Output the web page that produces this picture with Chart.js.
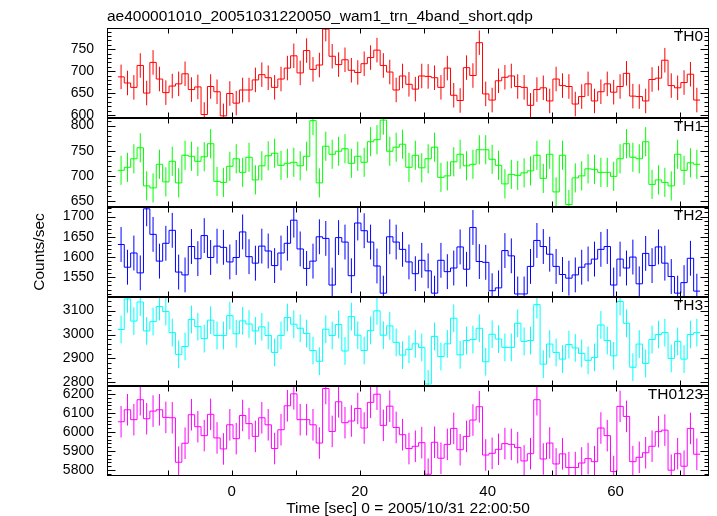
<!DOCTYPE html>
<html>
<head>
<meta charset="utf-8">
<script src="https://cdn.jsdelivr.net/npm/chart.js@4/dist/chart.umd.min.js"></script>
<style>
  html, body { margin: 0; padding: 0; background: #fff; }
  #wrap { width: 717px; height: 516px; }
</style>
</head>
<body>
<div id="wrap"><canvas id="lc"></canvas></div>
<script>
// bin centres [sec], 1 s bins
const times = [
  -17.3,-16.3,-15.3,-14.3,-13.3,-12.3,-11.3,-10.3,-9.3,-8.3,
  -7.3,-6.3,-5.3,-4.3,-3.3,-2.3,-1.3,-0.3,0.7,1.7,
  2.7,3.7,4.7,5.7,6.7,7.7,8.7,9.7,10.7,11.7,
  12.7,13.7,14.7,15.7,16.7,17.7,18.7,19.7,20.7,21.7,
  22.7,23.7,24.7,25.7,26.7,27.7,28.7,29.7,30.7,31.7,
  32.7,33.7,34.7,35.7,36.7,37.7,38.7,39.7,40.7,41.7,
  42.7,43.7,44.7,45.7,46.7,47.7,48.7,49.7,50.7,51.7,
  52.7,53.7,54.7,55.7,56.7,57.7,58.7,59.7,60.7,61.7,
  62.7,63.7,64.7,65.7,66.7,67.7,68.7,69.7,70.7,71.7,72.7
];
const binWidth = 1;

const th0 = [
  687,673,663,713,650,720,682,651,666,671,
  694,658,664,601,665,653,598,649,627,657,
  657,680,692,685,663,682,707,735,696,747,
  704,714,796,734,715,726,702,697,717,731,
  748,713,698,657,689,670,659,689,688,685,
  663,707,645,633,708,690,765,648,634,678,
  686,689,665,663,622,658,662,632,682,667,
  665,625,642,671,632,653,671,652,665,695,
  643,642,632,681,684,725,667,662,674,693,634
];
const th1 = [
  711,717,734,756,680,676,723,688,729,686,
  741,739,729,738,764,689,687,719,734,707,
  737,692,720,740,745,721,725,727,720,739,
  810,686,759,743,749,754,725,739,727,768,
  772,811,749,757,763,717,741,716,734,757,
  697,700,728,743,720,723,752,752,733,721,
  684,703,701,706,710,741,695,743,668,741,
  643,696,700,714,713,707,707,699,734,764,
  737,734,768,683,692,687,680,743,711,726,723
];
const th2 = [
  1631,1575,1610,1561,1719,1656,1590,1634,1666,1563,
  1556,1626,1596,1653,1599,1627,1624,1588,1599,1662,
  1601,1585,1627,1615,1579,1610,1634,1691,1620,1572,
  1590,1650,1646,1531,1648,1637,1554,1684,1665,1637,
  1578,1511,1650,1637,1619,1588,1559,1592,1566,1511,
  1592,1564,1573,1625,1570,1673,1589,1587,1517,1524,
  1616,1603,1509,1509,1577,1641,1626,1607,1577,1557,
  1548,1556,1575,1583,1595,1619,1626,1531,1595,1573,
  1600,1534,1609,1579,1625,1585,1552,1511,1537,1597,1516
];
const th3 = [
  3021,3149,3056,3136,3015,3054,3117,3096,3008,2917,
  2950,3063,3033,2983,3060,2996,2996,3079,3003,3057,
  3044,3015,3032,2996,2925,2996,3071,3043,3026,3004,
  2933,2888,3022,2996,3042,2931,3075,2997,2933,3017,
  3099,2997,3036,2967,2914,2938,2961,2946,2793,2992,
  2908,2961,3068,2915,2975,2979,3026,2886,3001,2981,
  2946,2946,3047,2971,2975,3125,2876,2960,2925,2897,
  2958,2944,2921,2892,2904,3040,2975,2911,3138,3047,
  2863,2960,2879,2979,3000,3008,2900,2971,2897,3000,3008
];
const th0123 = [
  6054,6117,6065,6170,6070,6110,6117,6077,6075,5841,
  5941,6091,6028,5981,6093,5969,5911,6038,5965,6087,
  6044,5977,6075,6038,5913,6012,6138,6201,6065,6065,
  6038,5942,6229,6003,6159,6049,6058,6124,6021,6156,
  6199,6035,6136,6024,5986,5913,5925,5944,5778,5946,
  5862,5935,6019,5907,5977,6063,6133,5879,5888,5909,
  5939,5935,5918,5848,5886,6170,5858,5942,5832,5885,
  5813,5813,5837,5860,5844,6021,5981,5792,6135,6082,
  5844,5867,5891,5925,6002,6010,5799,5886,5820,6019,5883
];

// typical 1-sigma error per panel
const errTH0 = 28, errTH1 = 29, errTH2 = 43, errTH3 = 58, errTH0123 = 83;

const panels = [
  { id: 'p1', label: 'TH0',    values: th0,    err: errTH0,    color: '#ff0000', min: 594,    max: 798.5,  step: 50,  minor: 10 },
  { id: 'p2', label: 'TH1',    values: th1,    err: errTH1,    color: '#00ff00', min: 637.6,  max: 816,    step: 50,  minor: 10 },
  { id: 'p3', label: 'TH2',    values: th2,    err: errTH2,    color: '#0000ff', min: 1502,   max: 1723,   step: 50,  minor: 10 },
  { id: 'p4', label: 'TH3',    values: th3,    err: errTH3,    color: '#00ffff', min: 2783,   max: 3157.7, step: 100, minor: 20 },
  { id: 'p5', label: 'TH0123', values: th0123, err: errTH0123, color: '#ff00ff', min: 5768.6, max: 6240,   step: 100, minor: 20 }
];

const xMin = -19.5, xMax = 74.6, xTickStep = 20, xMarkStep = 10;
const FONT = "'Liberation Sans', Arial, Helvetica, sans-serif";

function stepData(vals) {
  const pts = vals.map((v, i) => ({ x: times[i] - binWidth / 2, y: v }));
  pts.push({ x: times[times.length - 1] + binWidth / 2, y: vals[vals.length - 1] });
  return pts;
}
function errData(vals, e) {
  const pts = [];
  vals.forEach((v, i) => {
    pts.push({ x: times[i], y: v - e }, { x: times[i], y: v + e }, { x: times[i], y: null });
  });
  return pts;
}

const datasets = [];
panels.forEach(p => {
  datasets.push({
    data: stepData(p.values), yAxisID: p.id, stepped: true,
    borderColor: p.color, borderWidth: 1, pointRadius: 0, fill: false
  });
  datasets.push({
    data: errData(p.values, p.err), yAxisID: p.id, spanGaps: false,
    borderColor: p.color, borderWidth: 1, pointRadius: 0, fill: false
  });
});

const plain = v => String(v);

const scales = {
  x: {
    type: 'linear', position: 'bottom', min: xMin, max: xMax,
    grid: { display: false, drawTicks: false }, border: { display: false },
    ticks: { stepSize: xTickStep, includeBounds: false, autoSkip: false, callback: plain, color: '#000', font: { family: FONT, size: 15 }, padding: 7, maxRotation: 0 },
    title: { display: true, text: 'Time [sec] 0 = 2005/10/31 22:00:50', color: '#000', font: { family: FONT, size: 15.5, lineHeight: 1 }, padding: { top: 0, bottom: 0 } },
    afterFit: s => { s.height = 40; }
  }
};
// stacked axes: the last defined one sits on top
panels.slice().reverse().forEach(p => {
  scales[p.id] = {
    type: 'linear', position: 'left', stack: 'panels', stackWeight: 1,
    min: p.min, max: p.max,
    grid: { display: false, drawTicks: false }, border: { display: false },
    ticks: { stepSize: p.step, includeBounds: false, autoSkip: false, callback: plain, color: '#000', font: { family: FONT, size: 14 }, padding: 13 },
    title: { display: p.id === 'p3', text: 'Counts/sec', color: '#000', font: { family: FONT, size: 15.5 }, padding: { top: 30, bottom: 0 } },
    afterFit: s => { s.width = 107; }
  };
});

const panelFrame = {
  id: 'panelFrame',
  beforeDatasetDraw(chart, args) {
    const ys = chart.scales[args.meta.yAxisID];
    const a = chart.chartArea;
    chart.ctx.save();
    chart.ctx.beginPath();
    chart.ctx.rect(a.left, ys.top, a.right - a.left, ys.bottom - ys.top);
    chart.ctx.clip();
  },
  afterDatasetDraw(chart) {
    chart.ctx.restore();
  },
  afterDraw(chart) {
    const ctx = chart.ctx, a = chart.chartArea, xs = chart.scales.x;
    ctx.save();
    ctx.strokeStyle = '#000';
    ctx.lineWidth = 1;
    const L = Math.round(a.left) + 0.5, R = Math.round(a.right) - 0.5;
    panels.forEach(p => {
      const ys = chart.scales[p.id];
      const T = Math.round(ys.top) + 0.5, B = Math.round(ys.bottom) - 0.5;
      ctx.strokeRect(L, T, R - L, B - T);
      ctx.beginPath();
      // y tick marks, inward on both sides
      for (let v = Math.ceil(p.min / p.minor) * p.minor; v <= p.max; v += p.minor) {
        const y = Math.round(ys.getPixelForValue(v)) + 0.5;
        const len = (v % p.step === 0) ? 8 : 4;
        ctx.moveTo(L, y); ctx.lineTo(L + len, y);
        ctx.moveTo(R, y); ctx.lineTo(R - len, y);
      }
      // x tick marks, inward at top and bottom of every panel
      for (let v = Math.ceil(xMin / xMarkStep) * xMarkStep; v <= xMax; v += xMarkStep) {
        const x = Math.round(xs.getPixelForValue(v)) + 0.5;
        ctx.moveTo(x, T); ctx.lineTo(x, T + 5);
        ctx.moveTo(x, B); ctx.lineTo(x, B - 5);
      }
      ctx.stroke();
      ctx.fillStyle = '#000';
      ctx.font = '15.5px ' + FONT;
      ctx.textAlign = 'right';
      ctx.textBaseline = 'top';
      ctx.fillText(p.label, a.right - 6, ys.top + 1);
    });
    ctx.restore();
  }
};

new Chart(document.getElementById('lc'), {
  type: 'line',
  data: { datasets },
  options: {
    responsive: true, maintainAspectRatio: false, animation: false,
    layout: { padding: { left: 0, right: 8, top: 0, bottom: 0 } },
    plugins: {
      legend: { display: false }, tooltip: { enabled: false },
      title: {
        display: true, text: 'ae400001010_20051031220050_wam1_trn_4band_short.qdp',
        align: 'start', fullSize: false, color: '#000',
        font: { family: FONT, size: 15.5, weight: 'normal' },
        padding: { top: 7, bottom: 2.4 }
      }
    },
    scales
  },
  plugins: [panelFrame]
});
</script>
</body>
</html>
